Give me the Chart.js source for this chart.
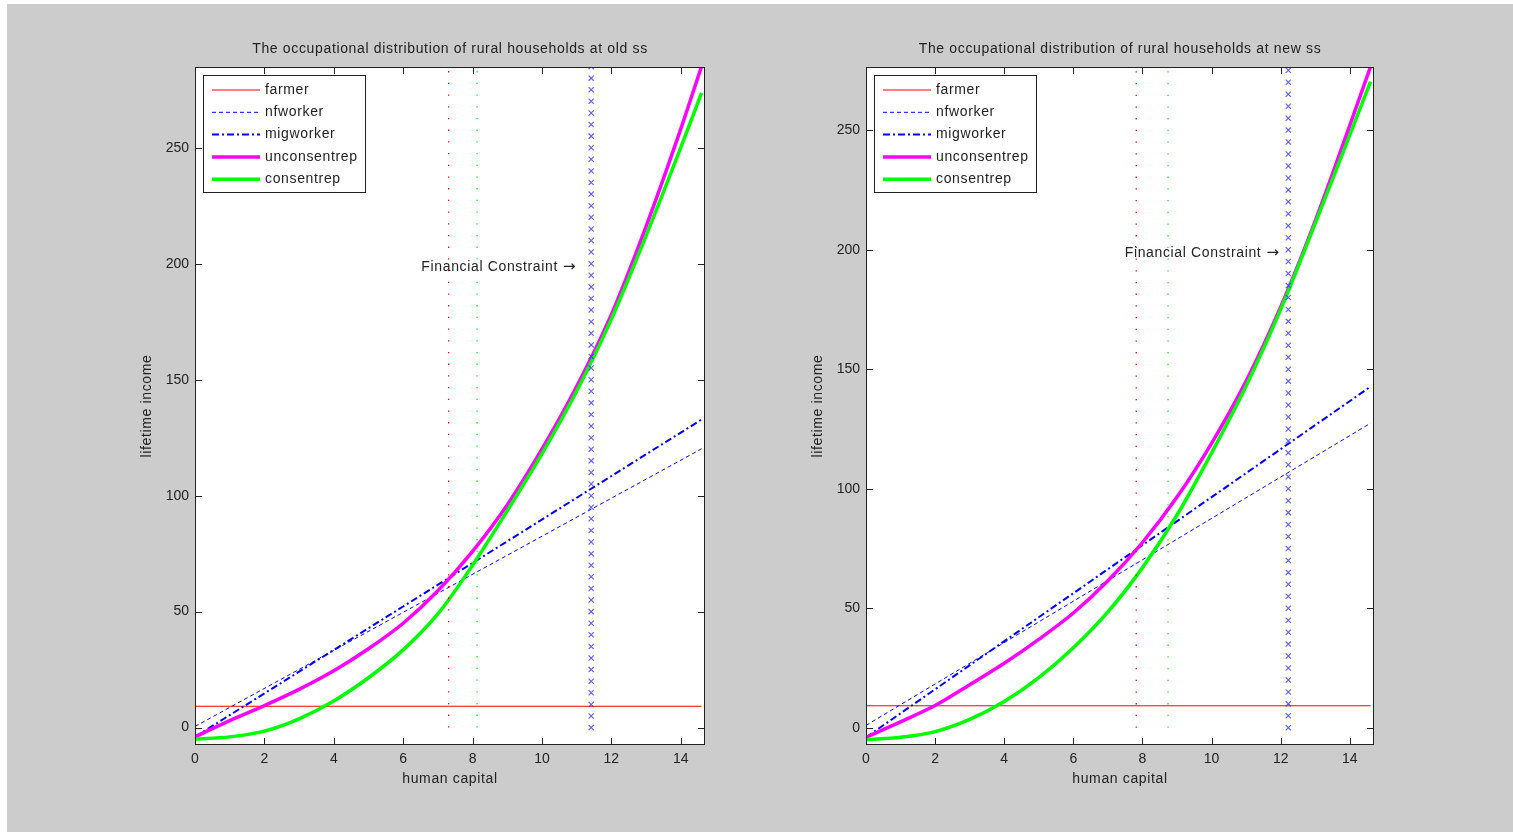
<!DOCTYPE html>
<html>
<head>
<meta charset="utf-8">
<script src="https://cdn.jsdelivr.net/npm/chart.js@4.4.1/dist/chart.umd.min.js"></script>
<style>
  body { margin: 0; background: #fff; }
  #bg { position: absolute; left: 7px; top: 4px; width: 1506px; height: 828px; background: #cccccc; }
  .box { position: absolute; top: 20px; width: 600px; height: 780px; }
</style>
</head>
<body>
<div id="bg"></div>
<div class="box" style="left:115px"><canvas id="oldss"></canvas></div>
<div class="box" style="left:786px"><canvas id="newss"></canvas></div>
<script>
// human capital grid and ticks
var hc = [0, 1, 2, 3, 4, 5, 6, 7, 8, 9, 10, 11, 12, 13, 14, 14.6];
var hcEnds = [0, 14.6];
var xTicks = [0, 2, 4, 6, 8, 10, 12, 14];
var yTicks = [0, 50, 100, 150, 200, 250];
var legendNames = ['farmer', 'nfworker', 'migworker', 'unconsentrep', 'consentrep'];

// old ss
var oldFarmer = [9.2, 9.2];
var oldNfworker = [0.5, 120.2];
var oldMigworker = [-4, 132.8];
var oldUnconsentrep = [-4, 3, 9.5, 16.5, 24.5, 34, 45, 59, 76, 96, 120, 147, 178, 216, 258, 285];
var oldConsentrep = [-5, -4, -1.5, 3.8, 11.5, 21.5, 33.5, 49, 70, 93.5, 118, 145, 176, 212, 250, 273.6];
var oldCuts = [7.31, 8.13];
var oldConstraint = 11.42;
var oldYRange = [-7.5, 284.8];
var oldAnnotX = 10.97;

// new ss
var newFarmer = [9.2, 9.2];
var newNfworker = [1, 127.4];
var newMigworker = [-4, 142.7];
var newUnconsentrep = [-4, 2.5, 9.3, 18, 27, 37, 48, 61.5, 77.5, 96.5, 119, 145, 176, 212, 252, 276.5];
var newConsentrep = [-5, -4, -1.6, 3.5, 11, 21, 33.5, 48.5, 67, 89, 115, 143, 175, 211, 248, 270.3];
var newCuts = [7.82, 8.74];
var newConstraint = 12.22;
var newYRange = [-7.2, 276.4];
var newAnnotX = 11.95;

// financial constraint markers
var constraintY = [0, 5, 10, 15, 20, 25, 30, 35, 40, 45, 50, 55, 60, 65, 70, 75, 80, 85, 90, 95,
  100, 105, 110, 115, 120, 125, 130, 135, 140, 145, 150, 155, 160, 165, 170, 175, 180, 185, 190, 195,
  200, 205, 210, 215, 220, 225, 230, 235, 240, 245, 250, 255, 260, 265, 270, 275, 280, 285];
var cutY = [0, 290];
var annotY = 198.5;
var xMax = 14.7;

var FONT = '"Liberation Sans", Arial, sans-serif';

function pts(xs, ys) {
  return xs.map(function(x, i) { return {x: x, y: ys[i]}; });
}

var frame = {
  id: 'frame',
  beforeDraw: function(chart) {
    var a = chart.chartArea, ctx = chart.ctx;
    ctx.save();
    ctx.fillStyle = '#fff';
    ctx.fillRect(a.left, a.top, a.right - a.left, a.bottom - a.top);
    ctx.restore();
  },
  afterDraw: function(chart, args, opts) {
    var a = chart.chartArea, ctx = chart.ctx;
    var xs = chart.scales.x, ys = chart.scales.y;
    ctx.save();
    // box + inward ticks
    ctx.strokeStyle = '#222';
    ctx.lineWidth = 1;
    ctx.strokeRect(a.left + 0.5, a.top + 0.5, a.right - a.left - 1, a.bottom - a.top - 1);
    ctx.beginPath();
    yTicks.forEach(function(v) {
      var p = Math.round(ys.getPixelForValue(v)) + 0.5;
      ctx.moveTo(a.left, p); ctx.lineTo(a.left + 7, p);
      ctx.moveTo(a.right, p); ctx.lineTo(a.right - 7, p);
    });
    xTicks.forEach(function(v) {
      var p = Math.round(xs.getPixelForValue(v)) + 0.5;
      ctx.moveTo(p, a.bottom); ctx.lineTo(p, a.bottom - 7);
      ctx.moveTo(p, a.top); ctx.lineTo(p, a.top + 7);
    });
    ctx.stroke();

    // texts
    ctx.fillStyle = '#222';
    ctx.font = '14px ' + FONT;
    ctx.letterSpacing = '0.65px';
    ctx.textAlign = 'center';
    ctx.textBaseline = 'middle';
    ctx.fillText(opts.title, (a.left + a.right) / 2, a.top - 18);
    ctx.fillText('human capital', (a.left + a.right) / 2, a.bottom + 34);
    ctx.save();
    ctx.translate(a.left - 48, (a.top + a.bottom) / 2);
    ctx.rotate(-Math.PI / 2);
    ctx.fillText('lifetime income', 0, 0);
    ctx.restore();

    // annotation: text + wider arrow glyph
    var ax = xs.getPixelForValue(opts.annotX), ay = ys.getPixelForValue(annotY);
    ctx.textAlign = 'right';
    ctx.save();
    ctx.letterSpacing = '0px';
    ctx.font = '15px "DejaVu Sans", sans-serif';
    var aw = ctx.measureText('\u2192').width;
    ctx.fillText('\u2192', ax, ay);
    ctx.restore();
    ctx.fillText('Financial Constraint', ax - aw - 5, ay);

    // legend
    var lx = a.left + 8, ly = a.top + 8;
    ctx.fillStyle = '#fff';
    ctx.fillRect(lx, ly, 162, 117);
    ctx.strokeStyle = '#222';
    ctx.strokeRect(lx + 0.5, ly + 0.5, 162, 117);
    ctx.textAlign = 'left';
    legendNames.forEach(function(name, i) {
      var ds = chart.data.datasets[i];
      var yy = ly + 15 + i * 22.3;
      ctx.strokeStyle = ds.borderColor;
      ctx.lineWidth = ds.borderWidth;
      ctx.setLineDash(ds.borderDash || []);
      ctx.beginPath();
      ctx.moveTo(lx + 9, yy); ctx.lineTo(lx + 57, yy);
      ctx.stroke();
      ctx.setLineDash([]);
      ctx.fillStyle = '#222';
      ctx.fillText(name, lx + 62, yy);
    });
    ctx.restore();
  }
};

function makeChart(id, title, farmer, nf, mig, unc, cons, cuts, constraint, yRange, annotX, padRight) {
  var line = {pointRadius: 0, fill: false};
  var datasets = [
    Object.assign({label: legendNames[0], data: pts(hcEnds, farmer), borderColor: '#ff0000', borderWidth: 1, order: 7}, line),
    Object.assign({label: legendNames[1], data: pts(hcEnds, nf), borderColor: '#0000ff', borderWidth: 1, borderDash: [4, 3], order: 6}, line),
    Object.assign({label: legendNames[2], data: pts(hcEnds, mig), borderColor: '#0000ff', borderWidth: 2, borderDash: [7, 3, 2, 3], order: 5}, line),
    Object.assign({label: legendNames[3], data: pts(hc, unc), borderColor: '#ff00ff', borderWidth: 3.5, cubicInterpolationMode: 'monotone', order: 4}, line),
    Object.assign({label: legendNames[4], data: pts(hc, cons), borderColor: '#00ff00', borderWidth: 3.5, cubicInterpolationMode: 'monotone', order: 3}, line),
    Object.assign({label: 'cut1', data: pts([cuts[0], cuts[0]], cutY), borderColor: '#ff0000', borderWidth: 1.3, borderDash: [1.3, 10.4], order: 2}, line),
    Object.assign({label: 'cut2', data: pts([cuts[1], cuts[1]], cutY), borderColor: '#00ff00', borderWidth: 1.3, borderDash: [1.3, 10.4], order: 2}, line),
    {label: 'constraint', data: constraintY.map(function(y) { return {x: constraint, y: y}; }),
      showLine: false, pointStyle: 'crossRot', pointRadius: 3.7, pointBorderWidth: 1.1,
      pointBorderColor: 'rgba(50,50,255,0.8)', pointBackgroundColor: 'rgba(0,0,0,0)', order: 1}
  ];

  return new Chart(document.getElementById(id), {
    type: 'line',
    data: {datasets: datasets},
    options: {
      animation: false,
      responsive: true,
      maintainAspectRatio: false,
      events: [],
      layout: {padding: {top: 47, right: padRight, left: 0, bottom: 0}},
      plugins: {
        legend: {display: false},
        tooltip: {enabled: false},
        frame: {title: title, annotX: annotX}
      },
      scales: {
        x: {
          type: 'linear', min: 0, max: xMax,
          grid: {display: false, drawTicks: false},
          border: {display: false},
          afterBuildTicks: function(s) { s.ticks = xTicks.map(function(v) { return {value: v}; }); },
          afterFit: function(s) { s.height = 55; },
          ticks: {color: '#222', padding: 6, maxRotation: 0, font: {family: FONT, size: 14}}
        },
        y: {
          type: 'linear', min: yRange[0], max: yRange[1],
          grid: {display: false, drawTicks: false},
          border: {display: false},
          afterBuildTicks: function(s) { s.ticks = yTicks.map(function(v) { return {value: v}; }); },
          afterFit: function(s) { s.width = 80; },
          ticks: {color: '#222', padding: 6, font: {family: FONT, size: 14}}
        }
      }
    },
    plugins: [frame]
  });
}

makeChart('oldss', 'The occupational distribution of rural households at old ss',
  oldFarmer, oldNfworker, oldMigworker, oldUnconsentrep, oldConsentrep,
  oldCuts, oldConstraint, oldYRange, oldAnnotX, 10);
makeChart('newss', 'The occupational distribution of rural households at new ss',
  newFarmer, newNfworker, newMigworker, newUnconsentrep, newConsentrep,
  newCuts, newConstraint, newYRange, newAnnotX, 12);
</script>
</body>
</html>
